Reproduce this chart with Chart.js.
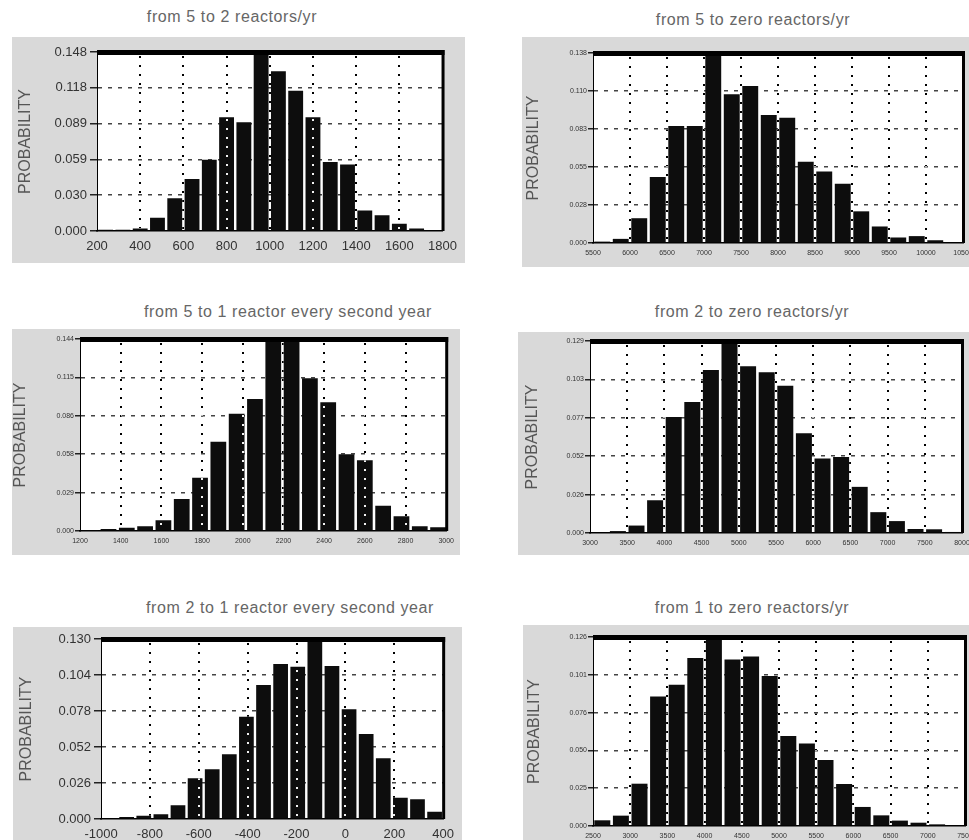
<!DOCTYPE html>
<html>
<head>
<meta charset="utf-8">
<script src="https://cdn.jsdelivr.net/npm/chart.js@4.4.2/dist/chart.umd.min.js"></script>
<style>
  html, body { margin: 0; padding: 0; background: #fff; overflow: hidden; width: 969px; height: 840px; }
  .titulo { position: absolute; font-family: 'Liberation Sans', Arial, sans-serif; font-size: 16px; color: #666;
            letter-spacing: 0.6px; white-space: nowrap; transform: translate(-50%, -50%); }
  canvas { position: absolute; }
</style>
</head>
<body>
<div class="titulo" style="left:232px;top:17px">from 5 to 2 reactors/yr</div>
<div class="titulo" style="left:753px;top:20px">from 5 to zero reactors/yr</div>
<div class="titulo" style="left:288px;top:312px">from 5 to 1 reactor every second year</div>
<div class="titulo" style="left:752px;top:312px">from 2 to zero reactors/yr</div>
<div class="titulo" style="left:290px;top:608px">from 2 to 1 reactor every second year</div>
<div class="titulo" style="left:752px;top:608px">from 1 to zero reactors/yr</div>

<canvas id="g1" width="453" height="226" style="left:12px;top:37px"></canvas>
<canvas id="g2" width="470" height="230" style="left:522px;top:37px"></canvas>
<canvas id="g3" width="448" height="226" style="left:12px;top:329px"></canvas>
<canvas id="g4" width="474" height="223" style="left:518px;top:332px"></canvas>
<canvas id="g5" width="449" height="230" style="left:13px;top:627px"></canvas>
<canvas id="g6" width="469" height="230" style="left:523px;top:625px"></canvas>

<script>
// --- Datos: 5 -> 2 reactores/año ---
const centros1 = [240, 320, 400, 480, 560, 640, 720, 800, 880, 960, 1040, 1120, 1200, 1280, 1360, 1440, 1520, 1600, 1680];
const prob1 = [0.001, 0.001, 0.002, 0.011, 0.027, 0.043, 0.059, 0.094, 0.090, 0.148, 0.132, 0.116, 0.094, 0.057, 0.055, 0.017, 0.013, 0.006, 0.002];
const ejeX1 = [200, 400, 600, 800, 1000, 1200, 1400, 1600, 1800];
const ejeY1 = ['0.000', '0.030', '0.059', '0.089', '0.118', '0.148'];
const max1 = 0.148;

// --- Datos: 5 -> cero reactores/año ---
const centros2 = [5625, 5875, 6125, 6375, 6625, 6875, 7125, 7375, 7625, 7875, 8125, 8375, 8625, 8875, 9125, 9375, 9625, 9875, 10125];
const prob2 = [0.001, 0.003, 0.018, 0.048, 0.085, 0.085, 0.138, 0.108, 0.114, 0.093, 0.091, 0.059, 0.052, 0.043, 0.023, 0.012, 0.004, 0.005, 0.002];
const ejeX2 = [5500, 6000, 6500, 7000, 7500, 8000, 8500, 9000, 9500, 10000, 10500];
const ejeY2 = ['0.000', '0.028', '0.055', '0.083', '0.110', '0.138'];
const max2 = 0.138;

// --- Datos: 5 -> 1 reactor cada dos años ---
const centros3 = [1250, 1340, 1430, 1520, 1610, 1700, 1790, 1880, 1970, 2060, 2150, 2240, 2330, 2420, 2510, 2600, 2690, 2780, 2870, 2960];
const prob3 = [0.0003, 0.0015, 0.0025, 0.0035, 0.008, 0.024, 0.040, 0.067, 0.088, 0.099, 0.144, 0.144, 0.1145, 0.0965, 0.0575, 0.053, 0.019, 0.011, 0.0035, 0.0028];
const ejeX3 = [1200, 1400, 1600, 1800, 2000, 2200, 2400, 2600, 2800, 3000];
const ejeY3 = ['0.000', '0.029', '0.058', '0.086', '0.115', '0.144'];
const max3 = 0.144;

// --- Datos: 2 -> cero reactores/año ---
const centros4 = [3125, 3375, 3625, 3875, 4125, 4375, 4625, 4875, 5125, 5375, 5625, 5875, 6125, 6375, 6625, 6875, 7125, 7375, 7625, 7875];
const prob4 = [0, 0.0013, 0.005, 0.022, 0.078, 0.088, 0.1095, 0.129, 0.112, 0.108, 0.099, 0.067, 0.050, 0.051, 0.031, 0.014, 0.008, 0.0027, 0.0025, 0.0007];
const ejeX4 = [3000, 3500, 4000, 4500, 5000, 5500, 6000, 6500, 7000, 7500, 8000];
const ejeY4 = ['0.000', '0.026', '0.052', '0.077', '0.103', '0.129'];
const max4 = 0.129;

// --- Datos: 2 -> 1 reactor cada dos años ---
const centros5 = [-965, -895, -825, -755, -685, -615, -545, -475, -405, -335, -265, -195, -125, -55, 15, 85, 155, 225, 295, 365];
const prob5 = [0.0005, 0.0015, 0.0024, 0.0034, 0.0099, 0.0294, 0.0359, 0.0467, 0.0739, 0.0968, 0.112, 0.110, 0.130, 0.1105, 0.0792, 0.0614, 0.0438, 0.0154, 0.0142, 0.0053];
const ejeX5 = [-1000, -800, -600, -400, -200, 0, 200, 400];
const ejeY5 = ['0.000', '0.026', '0.052', '0.078', '0.104', '0.130'];
const max5 = 0.130;

// --- Datos: 1 -> cero reactores/año ---
const centros6 = [2625, 2875, 3125, 3375, 3625, 3875, 4125, 4375, 4625, 4875, 5125, 5375, 5625, 5875, 6125, 6375, 6625, 6875, 7125];
const prob6 = [0.0038, 0.0069, 0.0282, 0.0864, 0.0942, 0.112, 0.126, 0.111, 0.113, 0.100, 0.060, 0.055, 0.044, 0.028, 0.0127, 0.0071, 0.0036, 0.0022, 0.0011];
const ejeX6 = [2500, 3000, 3500, 4000, 4500, 5000, 5500, 6000, 6500, 7000, 7500];
const ejeY6 = ['0.000', '0.025', '0.050', '0.076', '0.101', '0.126'];
const max6 = 0.126;

// Fondo gris, área blanca, rejilla vertical punteada (invertida sobre las barras) y marco grueso
const marco = {
  id: 'marco',
  beforeDraw(chart) {
    const { ctx, chartArea: a, width, height } = chart;
    ctx.save();
    ctx.fillStyle = '#d9d9d9';
    ctx.fillRect(0, 0, width, height);
    ctx.fillStyle = '#fff';
    ctx.fillRect(a.left, a.top, a.right - a.left, a.bottom - a.top);
    ctx.restore();
  },
  afterDatasetsDraw(chart) {
    const { ctx, chartArea: a } = chart;
    const x = chart.scales.x;
    ctx.save();
    ctx.beginPath();
    ctx.rect(a.left, a.top, a.right - a.left, a.bottom - a.top);
    ctx.clip();
    ctx.globalCompositeOperation = 'difference';
    ctx.strokeStyle = '#fff';
    ctx.lineWidth = 2;
    ctx.setLineDash([2, 7]);
    x.ticks.forEach((t, i) => {
      if (i === 0 || i === x.ticks.length - 1) return;
      const px = Math.round(x.getPixelForValue(t.value));
      ctx.beginPath();
      ctx.moveTo(px, a.top + 4);
      ctx.lineTo(px, a.bottom);
      ctx.stroke();
    });
    ctx.restore();
  },
  afterDraw(chart) {
    const { ctx, chartArea: a } = chart;
    ctx.save();
    ctx.fillStyle = '#000';
    ctx.fillRect(a.left, a.top - 2, a.right - a.left + 2, 5);
    ctx.fillRect(a.right - 1, a.top - 2, 3, a.bottom - a.top + 2);
    ctx.restore();
  }
};

const fuente = "'Liberation Sans', Arial, sans-serif";

function histograma(id, centros, prob, ejeX, ejeY, yMax, p) {
  const chico = !p.grande;
  const ultimo = ejeY.length - 1;
  new Chart(document.getElementById(id), {
    type: 'bar',
    data: {
      datasets: [{
        data: centros.map((c, i) => ({ x: c, y: prob[i] })),
        backgroundColor: '#0d0d0d',
        borderWidth: 0,
        barPercentage: 0.86,
        categoryPercentage: 1
      }]
    },
    options: {
      responsive: false,
      animation: false,
      layout: { padding: { top: p.arriba, right: p.derecha, bottom: 0, left: 0 } },
      plugins: { legend: { display: false }, tooltip: { enabled: false } },
      scales: {
        x: {
          type: 'linear',
          min: ejeX[0],
          max: ejeX[ejeX.length - 1],
          offset: false,
          afterFit: s => { s.height = p.altoX; },
          afterBuildTicks: s => { s.ticks = ejeX.map(v => ({ value: v })); },
          ticks: {
            autoSkip: false, maxRotation: 0, color: '#333',
            padding: chico ? 6 : 8,
            font: { family: fuente, size: chico ? 7 : 13 },
            callback: v => String(v)
          },
          grid: { drawOnChartArea: false, drawTicks: false, offset: false },
          border: { color: '#000', width: 1.5 }
        },
        y: {
          min: 0,
          max: yMax,
          afterFit: s => { s.width = p.anchoY; },
          afterBuildTicks: s => { s.ticks = ejeY.map((l, i) => ({ value: yMax * i / ultimo })); },
          ticks: {
            color: '#333',
            padding: chico ? 1 : 3,
            font: { family: fuente, size: chico ? 7 : 13 },
            callback: (v, i) => ejeY[i]
          },
          grid: {
            color: c => (c.index === 0 || c.index === ultimo) ? 'rgba(0,0,0,0)' : '#444',
            tickColor: '#222',
            tickLength: chico ? 5 : 7,
            tickWidth: 1.5,
            lineWidth: 1.5
          },
          border: { color: '#000', width: 1, dash: [4, 6] },
          title: {
            display: true,
            text: 'PROBABILITY',
            color: '#555',
            font: { family: fuente, size: 16, lineHeight: 1 },
            padding: { top: p.titulo, bottom: 0 }
          }
        }
      }
    },
    plugins: [marco]
  });
}

histograma('g1', centros1, prob1, ejeX1, ejeY1, max1, { grande: true, arriba: 15, derecha: 22, anchoY: 85, altoX: 32, titulo: 6 });
histograma('g2', centros2, prob2, ejeX2, ejeY2, max2, { grande: false, arriba: 16, derecha: 29, anchoY: 71, altoX: 24, titulo: 4 });
histograma('g3', centros3, prob3, ejeX3, ejeY3, max3, { grande: false, arriba: 10, derecha: 8, anchoY: 68, altoX: 24, titulo: 1 });
histograma('g4', centros4, prob4, ejeX4, ejeY4, max4, { grande: false, arriba: 9, derecha: 30, anchoY: 72, altoX: 22, titulo: 7 });
histograma('g5', centros5, prob5, ejeX5, ejeY5, max5, { grande: true, arriba: 12, derecha: 15, anchoY: 88, altoX: 38, titulo: 6 });
histograma('g6', centros6, prob6, ejeX6, ejeY6, max6, { grande: false, arriba: 12, derecha: 27, anchoY: 70, altoX: 29, titulo: 4 });
</script>
</body>
</html>
